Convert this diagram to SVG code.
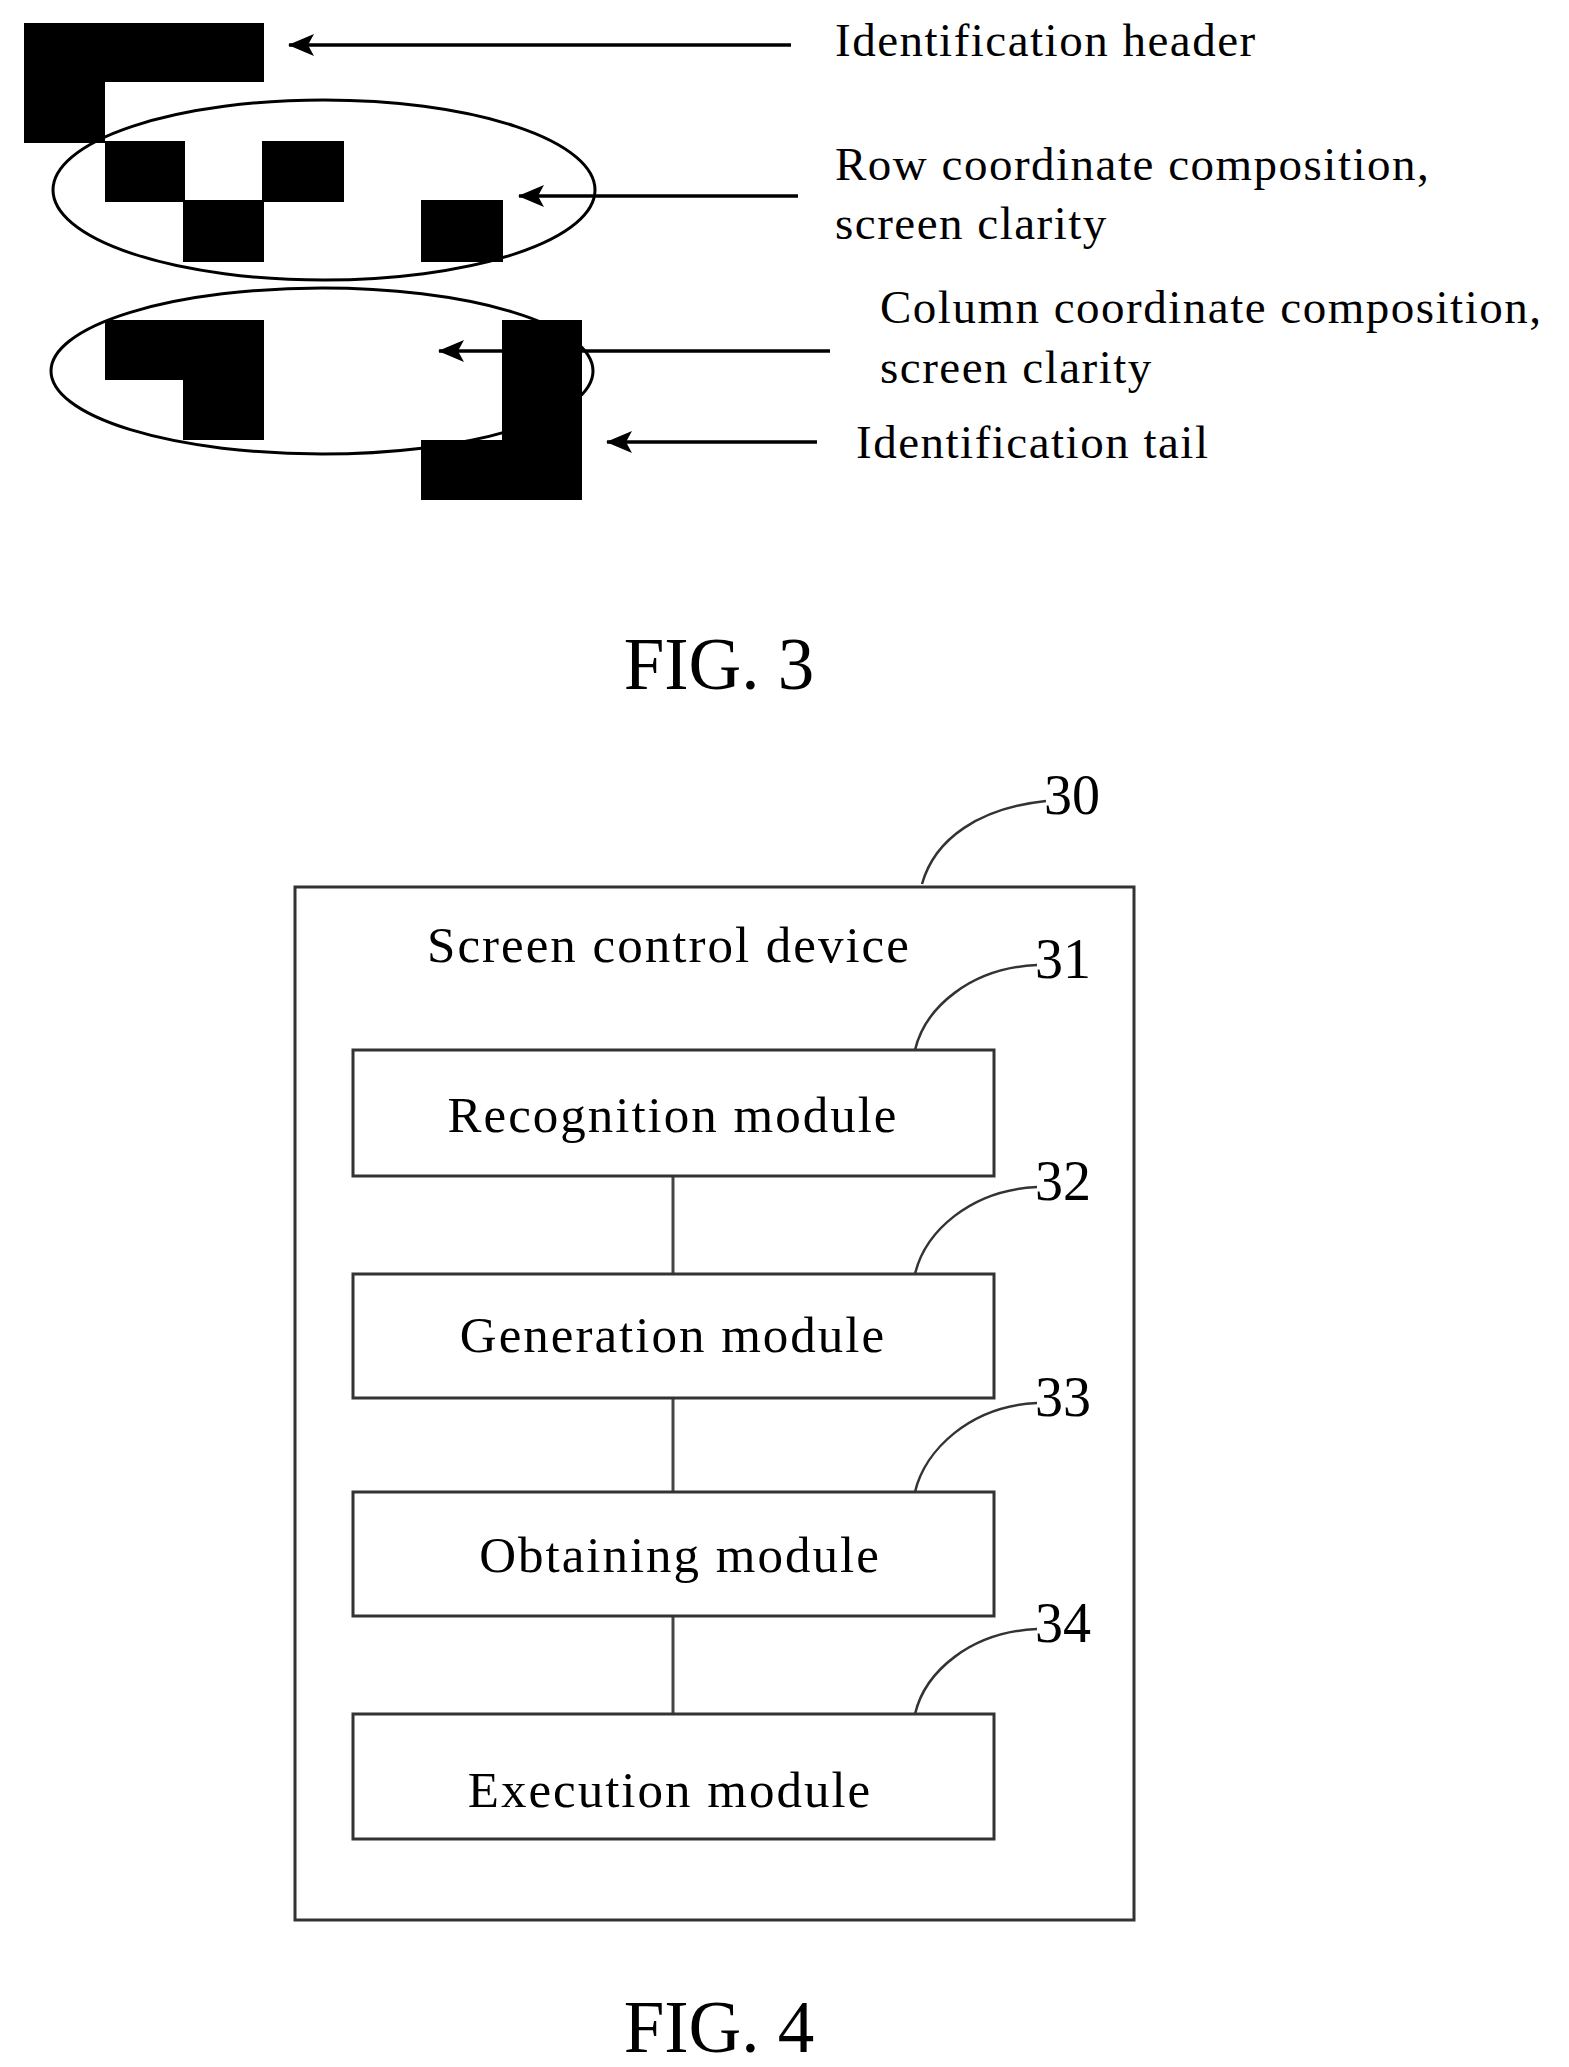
<svg xmlns="http://www.w3.org/2000/svg" width="1569" height="2067" viewBox="0 0 1569 2067">
<style>
text{font-family:"Liberation Serif",serif;fill:#000}
.lab{font-size:47px;letter-spacing:1.5px}
.mod{font-size:51px;text-anchor:middle;letter-spacing:2px}
.num{font-size:56px}
.fig{font-size:73px;text-anchor:middle}
.blk{fill:#000}
.ell{fill:none;stroke:#000;stroke-width:3}
.arr{stroke:#000;stroke-width:3.5;fill:none}
.con{stroke:#444;stroke-width:3;fill:none}
.box{fill:#fff;stroke:#333;stroke-width:3}
.lead{fill:none;stroke:#333;stroke-width:2.5}
</style>
<defs>
<marker id="ah" markerWidth="26" markerHeight="22" refX="25" refY="11" orient="auto" markerUnits="userSpaceOnUse">
<path d="M0,0 L26,11 L0,22 L6,11 Z" fill="#000"/>
</marker>
</defs>
<g id="fig3">
<g id="header"><polygon class="blk" points="24,23 264,23 264,82 105,82 105,143 24,143"/></g>
<g id="row-blocks">
<rect class="blk" x="105" y="141" width="80" height="61"/>
<rect class="blk" x="262" y="141" width="82" height="61"/>
<rect class="blk" x="183" y="200" width="81" height="62"/>
<rect class="blk" x="421" y="200" width="82" height="62"/>
</g>
<g id="col-blocks">
<polygon class="blk" points="105,320 264,320 264,440 183,440 183,380 105,380"/>
</g>
<g id="tail"><polygon class="blk" points="502,320 582,320 582,500 421,500 421,440 502,440"/></g>
<ellipse class="ell" cx="324" cy="190" rx="271" ry="90"/>
<ellipse class="ell" cx="322" cy="371" rx="271" ry="83"/>
<g id="fig3-arrows">
<line class="arr" x1="791" y1="45" x2="289" y2="45" marker-end="url(#ah)"/>
<line class="arr" x1="798" y1="196" x2="519" y2="196" marker-end="url(#ah)"/>
<line class="arr" x1="830" y1="351" x2="439" y2="351" marker-end="url(#ah)"/>
<line class="arr" x1="817" y1="442" x2="607" y2="442" marker-end="url(#ah)"/>
</g>
<text class="lab" x="835" y="56">Identification header</text>
<text class="lab" x="835" y="180">Row coordinate composition,</text>
<text class="lab" x="835" y="239">screen clarity</text>
<text class="lab" x="880" y="323">Column coordinate composition,</text>
<text class="lab" x="880" y="383">screen clarity</text>
<text class="lab" x="856" y="458">Identification tail</text>
<text class="fig" x="719" y="689">FIG. 3</text>
</g>
<g transform="translate(0,8)">
<g id="device30">
<rect class="box" x="295" y="879" width="839" height="1033"/>
<text class="mod" x="669" y="954">Screen control device</text>
<path class="lead" d="M922,876 C935,830 980,800 1046,793"/>
<text class="num" x="1044" y="806">30</text>
</g>
<g id="connectors">
<line class="con" x1="673" y1="1168" x2="673" y2="1266"/>
<line class="con" x1="673" y1="1390" x2="673" y2="1484"/>
<line class="con" x1="673" y1="1608" x2="673" y2="1706"/>
</g>
<g id="m31">
<rect class="box" x="353" y="1042" width="641" height="126"/>
<text class="mod" x="673" y="1124">Recognition module</text>
<path class="lead" d="M915,1042 C925,1000 970,960 1037,957"/>
<text class="num" x="1035" y="970">31</text>
</g>
<g id="m32">
<rect class="box" x="353" y="1266" width="641" height="124"/>
<text class="mod" x="673" y="1344">Generation module</text>
<path class="lead" d="M915,1266 C925,1224 970,1182 1037,1179"/>
<text class="num" x="1035" y="1192">32</text>
</g>
<g id="m33">
<rect class="box" x="353" y="1484" width="641" height="124"/>
<text class="mod" x="680" y="1564">Obtaining module</text>
<path class="lead" d="M915,1484 C925,1442 970,1398 1037,1395"/>
<text class="num" x="1035" y="1408">33</text>
</g>
<g id="m34">
<rect class="box" x="353" y="1706" width="641" height="125"/>
<text class="mod" x="670" y="1799">Execution module</text>
<path class="lead" d="M915,1706 C925,1664 970,1624 1037,1621"/>
<text class="num" x="1035" y="1634">34</text>
</g>
</g>
<text class="fig" x="719" y="2052">FIG. 4</text>
</svg>
